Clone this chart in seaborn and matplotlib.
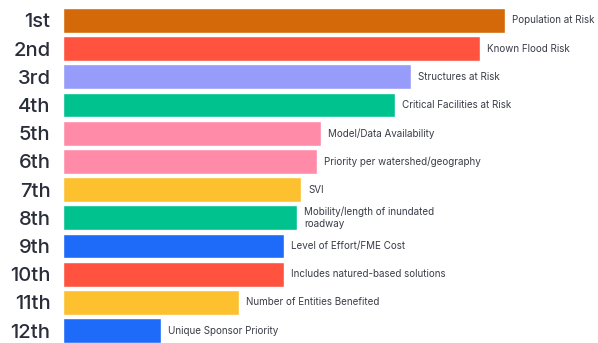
import matplotlib
matplotlib.use("Agg")
import matplotlib.pyplot as plt
import seaborn as sns
import pandas as pd

ranks = ["1st", "2nd", "3rd", "4th", "5th", "6th", "7th", "8th", "9th", "10th", "11th", "12th"]
criteria = [
    "Population at Risk",
    "Known Flood Risk",
    "Structures at Risk",
    "Critical Facilities at Risk",
    "Model/Data Availability",
    "Priority per watershed/geography",
    "SVI",
    "Mobility/length of inundated\nroadway",
    "Level of Effort/FME Cost",
    "Includes natured-based solutions",
    "Number of Entities Benefited",
    "Unique Sponsor Priority",
]
scores = [442, 417, 348, 332, 258, 254, 238, 234, 221, 221, 176, 98]
colors = ["#D4690A", "#FF5340", "#979CFA", "#00C28F", "#FF8BA9", "#FF8BA9",
          "#FDC02F", "#00C28F", "#1E6BFA", "#FF5340", "#FDC02F", "#1E6BFA"]

df = pd.DataFrame({"rank": ranks, "score": scores})

sns.set_style("white")
plt.rcParams["font.family"] = ["Inter", "DejaVu Sans"]

fig = plt.figure(figsize=(5.98, 3.43), dpi=100)
ax = fig.add_axes([63 / 598, 0, 1 - 63 / 598, (343 - 6.4) / 343])

sns.barplot(data=df, y="rank", x="score", hue="rank", palette=colors,
            legend=False, width=0.88, saturation=1, ax=ax)

for i, (v, lab) in enumerate(zip(scores, criteria)):
    ax.text(v + 7, i, lab, va="center", ha="left", fontsize=7.1,
            color="#3a3d48", linespacing=1.15)

ax.set_xlim(0, 535)
ax.set_ylim(11.44, -0.5)
ax.set_xlabel("")
ax.set_ylabel("")
ax.set_xticks([])
ax.tick_params(axis="y", length=0, pad=9, labelsize=14.5, labelcolor="#2a2d3a")
for t in ax.get_yticklabels():
    t.set_fontweight("medium")
for s in ax.spines.values():
    s.set_visible(False)

fig.savefig("out.png", dpi=100)
